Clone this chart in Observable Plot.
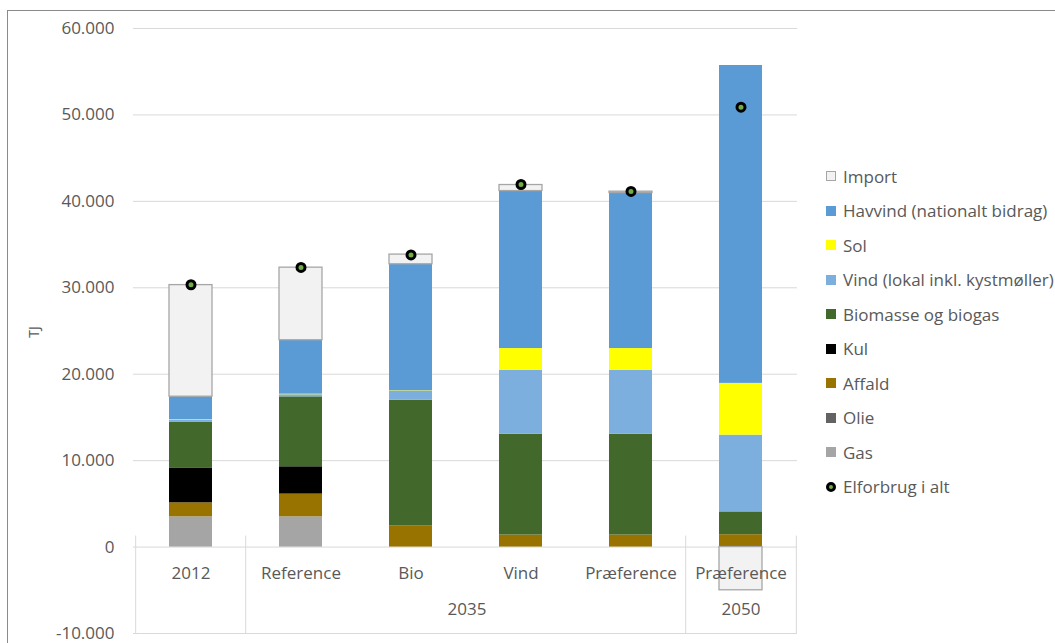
<!DOCTYPE html>
<html><head><meta charset="utf-8">
<script src="https://cdn.jsdelivr.net/npm/d3@7"></script>
<script src="https://cdn.jsdelivr.net/npm/@observablehq/plot@0.6"></script>
<style>
html,body{margin:0;padding:0;background:#fff;overflow:hidden;width:1055px;height:643px;position:relative}
#frame{position:absolute;left:7px;top:10px;width:1100px;height:700px;border:1px solid #8a8a8a;box-sizing:border-box}
#chart{position:absolute;left:0;top:0}
#ylabel{position:absolute;left:33px;top:332px;transform:translate(-50%,-50%) rotate(-90deg);font-family:"Open Sans";font-size:14px;color:#595959}
#legend{position:absolute;left:826px;top:159px;font-family:"Open Sans";font-size:17px;color:#595959}
.item{height:34.5px;display:flex;align-items:center;white-space:nowrap}
.sw{width:10px;height:10px;box-sizing:border-box;margin-right:7px;flex:none}
.dotsw{width:10px;height:10px;border-radius:50%;border:3px solid #000;box-sizing:border-box;margin-right:7px;flex:none}
</style>
</head><body>
<div id="frame"></div>
<div id="chart"></div>
<div id="ylabel">TJ</div>
<div id="legend"></div>
<script>
// Categories
const categories = ["2012", "Reference", "Bio", "Vind", "Præference", "Præference"];
const groups = ["", "2035", "2035", "2035", "2035", "2050"];

// Series (stack order, bottom to top)
const seriesNames = ["Gas", "Olie", "Affald", "Kul", "Biomasse og biogas", "Vind (lokal inkl. kystmøller)", "Sol", "Havvind (nationalt bidrag)", "Import"];
const seriesColors = ["#a5a5a5", "#636363", "#997300", "#000000", "#43682b", "#7cafdd", "#ffff00", "#5b9bd5", "#f2f2f2"];

const gas      = [3500, 3500, 0, 0, 0, 0];
const olie     = [0, 0, 0, 0, 0, 0];
const affald   = [1620, 2630, 2470, 1390, 1390, 1430];
const kul      = [3980, 3160, 0, 0, 0, 0];
const biomasse = [5320, 8090, 14520, 11670, 11670, 2640];
const vindLokal= [250, 250, 1020, 7400, 7400, 8880];
const sol      = [60, 60, 60, 2510, 2510, 5990];
const havvind  = [2670, 6240, 14650, 18220, 17990, 36780];
const importV  = [12910, 8400, 1120, 700, 160, -5000];
const elforbrug= [30350, 32350, 33800, 41950, 41150, 50900];

const yTicks = [-10000, 0, 10000, 20000, 30000, 40000, 50000, 60000];

const seriesValues = [gas, olie, affald, kul, biomasse, vindLokal, sol, havvind, importV];
const keys = categories.map((c, i) => groups[i] + "|" + c);
const rows = seriesNames.flatMap((s, j) => seriesValues[j].map((v, i) => ({key: keys[i], series: s, value: v})));
const points = elforbrug.map((v, i) => ({key: keys[i], value: v}));
const catRows = keys.map((k, i) => ({key: k, label: categories[i]}));

const W = 815, H = 643, mL = 133, mR = 18, mT = 28, mB = 10;
const step = (W - mL - mR) / keys.length;
const fmt = v => d3.format(",")(v).replace(/,/g, ".").replace("\u2212", "-");

// group boundaries
const groupInfo = [];
groups.forEach((g, i) => {
  if (i === 0 || groups[i - 1] !== g) groupInfo.push({name: g, first: i, last: i});
  else groupInfo[groupInfo.length - 1].last = i;
});

const sepMarks = [
  Plot.ruleX(groupInfo.map(g => keys[g.first]), {y1: yTicks[0], y2: 0, dx: -step / 2, stroke: "#d9d9d9", insetBottom: 11}),
  Plot.ruleX([keys[keys.length - 1]], {y1: yTicks[0], y2: 0, dx: step / 2, stroke: "#d9d9d9", insetBottom: 11})
];
const groupMarks = groupInfo.map(g => Plot.text([g.name], {
  x: () => keys[g.first], dx: (g.last - g.first) * step / 2, text: d => d,
  frameAnchor: "bottom", dy: -19, fill: "#595959", fontSize: 17
}));

const chart = Plot.plot({
  width: W, height: H,
  marginLeft: mL, marginRight: mR, marginTop: mT, marginBottom: mB,
  style: {fontFamily: "Open Sans", fontSize: "17px", color: "#595959", background: "transparent", overflow: "visible"},
  x: {domain: keys, paddingInner: 0.61, paddingOuter: 0.305, axis: null},
  y: {domain: [yTicks[0], yTicks[yTicks.length - 1]], axis: null},
  color: {domain: seriesNames, range: seriesColors},
  marks: [
    Plot.ruleY(yTicks, {stroke: "#d9d9d9", strokeWidth: 1}),
    Plot.axisY(yTicks, {tickSize: 0, tickPadding: 19, tickFormat: fmt, fill: "#595959", fontSize: 17, label: null}),
    ...sepMarks,
    Plot.barY(rows, Plot.stackY({
      x: "key", y: "value", fill: "series", order: seriesNames,
      stroke: "#a6a6a6", strokeWidth: 1.3,
      strokeOpacity: d => d.series === "Import" ? 1 : 0
    })),
    Plot.text(catRows, {x: "key", text: "label", frameAnchor: "bottom", dy: -55, fill: "#595959", fontSize: 17}),
    ...groupMarks,
    Plot.dot(points, {x: "key", y: "value", r: 4, fill: "#70ad47", stroke: "#000", strokeWidth: 3})
  ]
});
document.getElementById("chart").appendChild(chart);

// Legend
const legend = document.getElementById("legend");
const legendOrder = seriesNames.map((s, i) => ({name: s, color: seriesColors[i]})).reverse();
legendOrder.forEach(d => {
  const item = document.createElement("div");
  item.className = "item";
  const sw = document.createElement("div");
  sw.className = "sw";
  sw.style.background = d.color;
  if (d.name === "Import") sw.style.border = "1px solid #a6a6a6";
  item.appendChild(sw);
  item.appendChild(document.createTextNode(d.name));
  legend.appendChild(item);
});
const el = document.createElement("div");
el.className = "item";
const dsw = document.createElement("div");
dsw.className = "dotsw";
dsw.style.background = "#70ad47";
el.appendChild(dsw);
el.appendChild(document.createTextNode("Elforbrug i alt"));
legend.appendChild(el);
</script>
</body></html>
